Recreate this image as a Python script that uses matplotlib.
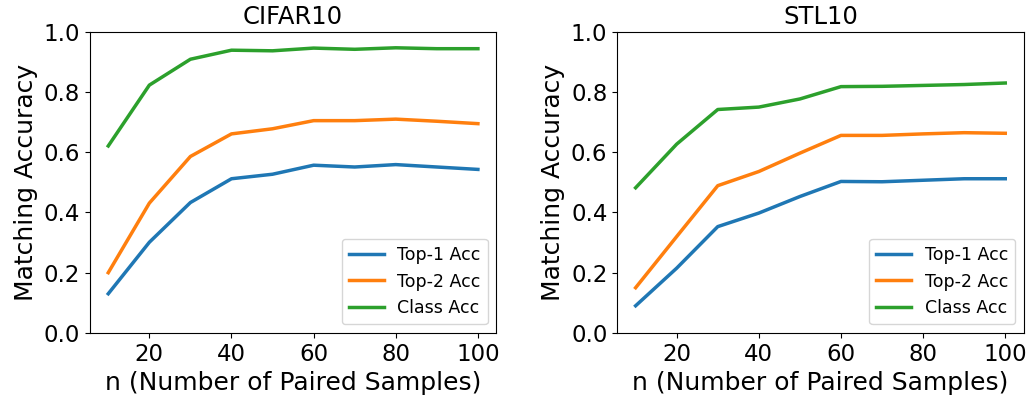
import numpy as np
import matplotlib
matplotlib.use('Agg')
import matplotlib.pyplot as plt

n = [10, 20, 30, 40, 50, 60, 70, 80, 90, 100]

# CIFAR10
cifar_top1 = [0.130, 0.301, 0.433, 0.512, 0.527, 0.557, 0.551, 0.559, 0.551, 0.543]
cifar_top2 = [0.200, 0.431, 0.586, 0.661, 0.678, 0.705, 0.705, 0.710, 0.703, 0.695]
cifar_class = [0.621, 0.823, 0.909, 0.939, 0.937, 0.946, 0.942, 0.947, 0.944, 0.944]

# STL10
stl_top1 = [0.090, 0.215, 0.353, 0.398, 0.453, 0.503, 0.502, 0.507, 0.512, 0.512]
stl_top2 = [0.150, 0.320, 0.489, 0.536, 0.597, 0.656, 0.656, 0.661, 0.665, 0.663]
stl_class = [0.482, 0.627, 0.742, 0.750, 0.777, 0.818, 0.819, 0.822, 0.825, 0.830]

titles = ['CIFAR10', 'STL10']
labels = ['Top-1 Acc', 'Top-2 Acc', 'Class Acc']

plt.rcParams['font.family'] = ['DejaVu Sans']
fig = plt.figure(figsize=(10.32, 4.03), dpi=100)
ax1 = fig.add_axes([0.087, 0.174, 0.394, 0.747])
ax2 = fig.add_axes([0.598, 0.174, 0.394, 0.747])

for ax, title, series in [(ax1, titles[0], [cifar_top1, cifar_top2, cifar_class]),
                          (ax2, titles[1], [stl_top1, stl_top2, stl_class])]:
    for s, lab in zip(series, labels):
        ax.plot(n, s, linewidth=2.5, label=lab)
    ax.set_ylim(0.0, 1.0)
    ax.set_xticks([20, 40, 60, 80, 100])
    ax.set_title(title, fontsize=17.5)
    ax.set_xlabel('n (Number of Paired Samples)', fontsize=18)
    ax.set_ylabel('Matching Accuracy', fontsize=18)
    ax.tick_params(labelsize=16.5)
    ax.legend(loc='lower right', fontsize=12.5)

fig.savefig('out.png', dpi=100)
